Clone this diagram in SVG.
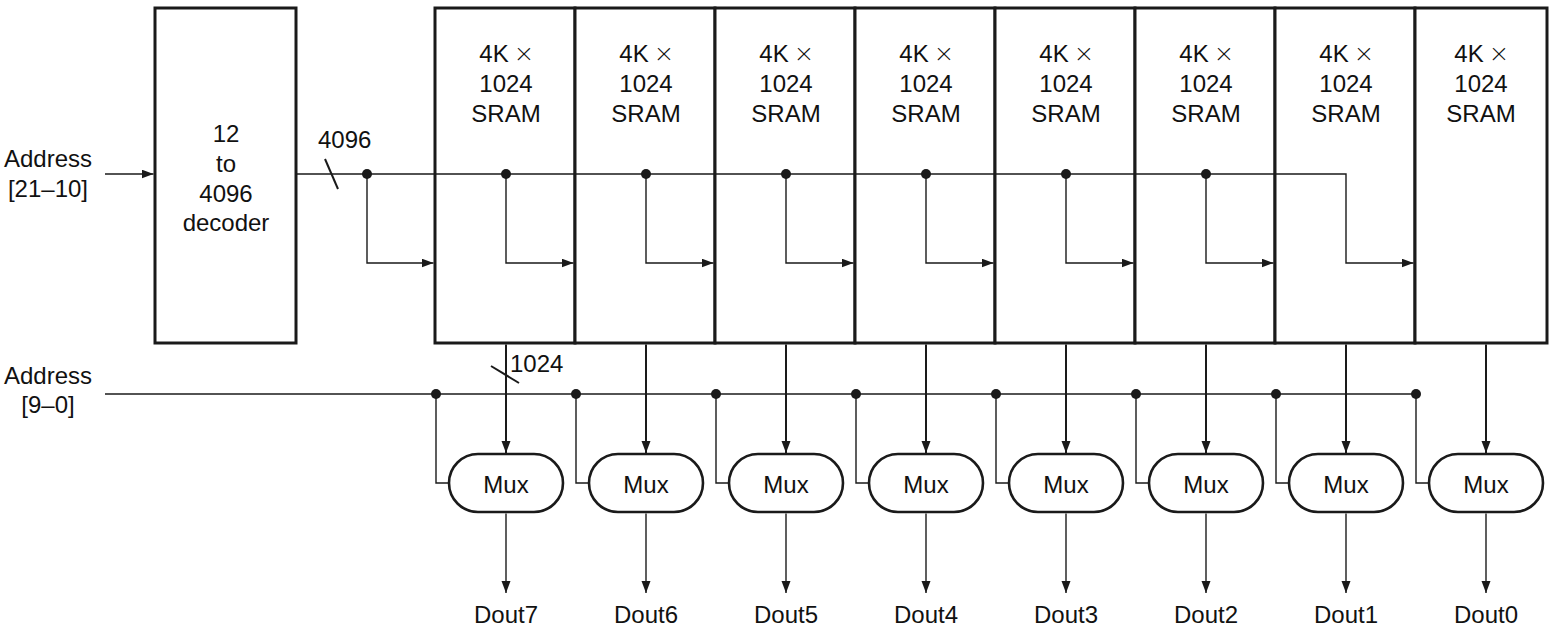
<svg xmlns="http://www.w3.org/2000/svg" width="1552" height="630" viewBox="0 0 1552 630">
<style>
text { font-family: "Liberation Sans", Arial, sans-serif; font-size: 24px; fill: #111; }
.c { text-anchor: middle; }
.x { font-family: Lato, "Liberation Sans", sans-serif; font-weight: 300; font-size: 30px; }
.box { fill: #fff; stroke: #1a1a1a; stroke-width: 3; }
.mux { fill: #fff; stroke: #1a1a1a; stroke-width: 2.6; }
.w { fill: none; stroke: #1a1a1a; stroke-width: 1.4; }
.wb { fill: none; stroke: #1a1a1a; stroke-width: 2; }
.dot { fill: #1a1a1a; }
</style>
<defs>
<marker id="ah" markerUnits="userSpaceOnUse" markerWidth="13" markerHeight="10" refX="12" refY="4.5" orient="auto">
<path d="M0,0 L12,4.5 L0,9 z" fill="#1a1a1a"/>
</marker>
</defs>
<rect width="1552" height="630" fill="#fff"/>

<g id="decoder">
<rect class="box" x="155" y="8" width="141" height="335"/>
<text class="c" x="226" y="142">12</text>
<text class="c" x="226" y="172">to</text>
<text class="c" x="226" y="202">4096</text>
<text class="c" x="226" y="231">decoder</text>
</g>

<g id="sram7"><rect class="box" x="435" y="8" width="140" height="335"/><text class="c" x="506" y="62">4K <tspan class="x" dy="2">×</tspan></text><text class="c" x="506" y="92">1024</text><text class="c" x="506" y="122">SRAM</text></g>
<g id="sram6"><rect class="box" x="575" y="8" width="140" height="335"/><text class="c" x="646" y="62">4K <tspan class="x" dy="2">×</tspan></text><text class="c" x="646" y="92">1024</text><text class="c" x="646" y="122">SRAM</text></g>
<g id="sram5"><rect class="box" x="715" y="8" width="140" height="335"/><text class="c" x="786" y="62">4K <tspan class="x" dy="2">×</tspan></text><text class="c" x="786" y="92">1024</text><text class="c" x="786" y="122">SRAM</text></g>
<g id="sram4"><rect class="box" x="855" y="8" width="140" height="335"/><text class="c" x="926" y="62">4K <tspan class="x" dy="2">×</tspan></text><text class="c" x="926" y="92">1024</text><text class="c" x="926" y="122">SRAM</text></g>
<g id="sram3"><rect class="box" x="995" y="8" width="140" height="335"/><text class="c" x="1066" y="62">4K <tspan class="x" dy="2">×</tspan></text><text class="c" x="1066" y="92">1024</text><text class="c" x="1066" y="122">SRAM</text></g>
<g id="sram2"><rect class="box" x="1135" y="8" width="140" height="335"/><text class="c" x="1206" y="62">4K <tspan class="x" dy="2">×</tspan></text><text class="c" x="1206" y="92">1024</text><text class="c" x="1206" y="122">SRAM</text></g>
<g id="sram1"><rect class="box" x="1275" y="8" width="140" height="335"/><text class="c" x="1346" y="62">4K <tspan class="x" dy="2">×</tspan></text><text class="c" x="1346" y="92">1024</text><text class="c" x="1346" y="122">SRAM</text></g>
<g id="sram0"><rect class="box" x="1415" y="8" width="132" height="335"/><text class="c" x="1481" y="62">4K <tspan class="x" dy="2">×</tspan></text><text class="c" x="1481" y="92">1024</text><text class="c" x="1481" y="122">SRAM</text></g>

<g id="mux7"><rect class="mux" x="449" y="454" width="114" height="58" rx="29"/><text class="c" x="506" y="493">Mux</text></g>
<g id="mux6"><rect class="mux" x="589" y="454" width="114" height="58" rx="29"/><text class="c" x="646" y="493">Mux</text></g>
<g id="mux5"><rect class="mux" x="729" y="454" width="114" height="58" rx="29"/><text class="c" x="786" y="493">Mux</text></g>
<g id="mux4"><rect class="mux" x="869" y="454" width="114" height="58" rx="29"/><text class="c" x="926" y="493">Mux</text></g>
<g id="mux3"><rect class="mux" x="1009" y="454" width="114" height="58" rx="29"/><text class="c" x="1066" y="493">Mux</text></g>
<g id="mux2"><rect class="mux" x="1149" y="454" width="114" height="58" rx="29"/><text class="c" x="1206" y="493">Mux</text></g>
<g id="mux1"><rect class="mux" x="1289" y="454" width="114" height="58" rx="29"/><text class="c" x="1346" y="493">Mux</text></g>
<g id="mux0"><rect class="mux" x="1429" y="454" width="114" height="58" rx="29"/><text class="c" x="1486" y="493">Mux</text></g>

<g id="labels">
<text class="c" x="48" y="167">Address</text>
<text class="c" x="48" y="197">[21–10]</text>
<text class="c" x="48" y="384">Address</text>
<text class="c" x="48" y="413">[9–0]</text>
<text x="318" y="148">4096</text>
<text x="510" y="372">1024</text>
<text class="c" x="506" y="623">Dout7</text>
<text class="c" x="646" y="623">Dout6</text>
<text class="c" x="786" y="623">Dout5</text>
<text class="c" x="926" y="623">Dout4</text>
<text class="c" x="1066" y="623">Dout3</text>
<text class="c" x="1206" y="623">Dout2</text>
<text class="c" x="1346" y="623">Dout1</text>
<text class="c" x="1486" y="623">Dout0</text>
</g>

<g id="connectors">
<path class="w" d="M105,174 H153.5" marker-end="url(#ah)"/>
<path class="w" d="M296,174 H1346 V263 H1413.5" marker-end="url(#ah)"/>
<path class="wb" d="M325,159 L338,189"/>
<path class="w" d="M367,174 V263 H433.5" marker-end="url(#ah)"/>
<path class="w" d="M506,174 V263 H573.5" marker-end="url(#ah)"/>
<path class="w" d="M646,174 V263 H713.5" marker-end="url(#ah)"/>
<path class="w" d="M786,174 V263 H853.5" marker-end="url(#ah)"/>
<path class="w" d="M926,174 V263 H993.5" marker-end="url(#ah)"/>
<path class="w" d="M1066,174 V263 H1133.5" marker-end="url(#ah)"/>
<path class="w" d="M1206,174 V263 H1273.5" marker-end="url(#ah)"/>
<g class="dot">
<circle cx="367" cy="174" r="5"/><circle cx="506" cy="174" r="5"/><circle cx="646" cy="174" r="5"/><circle cx="786" cy="174" r="5"/><circle cx="926" cy="174" r="5"/><circle cx="1066" cy="174" r="5"/><circle cx="1206" cy="174" r="5"/>
</g>

<path class="w" d="M105,394 H1417"/>
<path class="w" d="M436,394 V483 H449"/>
<path class="w" d="M576,394 V483 H589"/>
<path class="w" d="M716,394 V483 H729"/>
<path class="w" d="M856,394 V483 H869"/>
<path class="w" d="M996,394 V483 H1009"/>
<path class="w" d="M1136,394 V483 H1149"/>
<path class="w" d="M1276,394 V483 H1289"/>
<path class="w" d="M1416,394 V483 H1429"/>
<g class="dot">
<circle cx="436" cy="394" r="5"/><circle cx="576" cy="394" r="5"/><circle cx="716" cy="394" r="5"/><circle cx="856" cy="394" r="5"/><circle cx="996" cy="394" r="5"/><circle cx="1136" cy="394" r="5"/><circle cx="1276" cy="394" r="5"/><circle cx="1416" cy="394" r="5"/>
</g>

<path class="wb" d="M506,344.5 V453" marker-end="url(#ah)"/>
<path class="wb" d="M646,344.5 V453" marker-end="url(#ah)"/>
<path class="wb" d="M786,344.5 V453" marker-end="url(#ah)"/>
<path class="wb" d="M926,344.5 V453" marker-end="url(#ah)"/>
<path class="wb" d="M1066,344.5 V453" marker-end="url(#ah)"/>
<path class="wb" d="M1206,344.5 V453" marker-end="url(#ah)"/>
<path class="wb" d="M1346,344.5 V453" marker-end="url(#ah)"/>
<path class="wb" d="M1486,344.5 V453" marker-end="url(#ah)"/>
<path class="wb" d="M491,366 L519,383"/>

<path class="w" d="M506,513.5 V593" marker-end="url(#ah)"/>
<path class="w" d="M646,513.5 V593" marker-end="url(#ah)"/>
<path class="w" d="M786,513.5 V593" marker-end="url(#ah)"/>
<path class="w" d="M926,513.5 V593" marker-end="url(#ah)"/>
<path class="w" d="M1066,513.5 V593" marker-end="url(#ah)"/>
<path class="w" d="M1206,513.5 V593" marker-end="url(#ah)"/>
<path class="w" d="M1346,513.5 V593" marker-end="url(#ah)"/>
<path class="w" d="M1486,513.5 V593" marker-end="url(#ah)"/>
</g>
</svg>
